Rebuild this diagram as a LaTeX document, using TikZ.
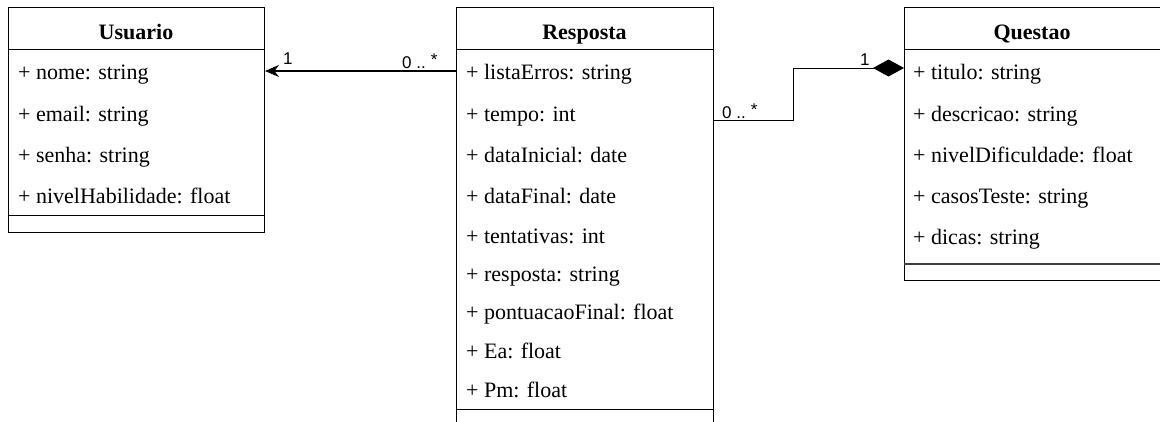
\documentclass[tikz,border=0pt]{standalone}
\usepackage{fontspec}
\setmainfont{Liberation Serif}
\newfontfamily\labelfont{Liberation Sans}
\usetikzlibrary{arrows.meta}
\begin{document}
\begin{tikzpicture}[x=1pt, y=-1pt, classbox/.style={draw, line width=1pt, anchor=north west, inner sep=0pt, minimum width=256pt}, title/.style={anchor=base, inner sep=0pt, font=\fontsize{22}{26}\selectfont\bfseries}, attr/.style={anchor=base west, inner sep=0pt, font=\fontsize{22}{26}\selectfont}, l/.style={anchor=base west, inner sep=0pt, font=\labelfont\fontsize{17}{20}\selectfont}]
	\useasboundingbox (0,0) rectangle (1160,421);

	% class boxes
	\node[classbox, minimum height=225pt] (usuario) at (8,7) {};
	\node[classbox, minimum height=420pt, minimum width=257pt] (resposta) at (456,7) {};
	\node[classbox, minimum height=273pt] (questao) at (904,7) {};

	\draw[line width=1pt] (8,49) -- ++(256,0);
	\draw[line width=1pt] (8,215) -- ++(256,0);
	\draw[line width=1pt] (456,49) -- ++(257,0);
	\draw[line width=1pt] (456,409) -- ++(257,0);
	\draw[line width=1pt] (904,49) -- ++(256,0);
	\draw[line width=1.6pt, black!75] (904,264) -- ++(256,0);

	\node[title] (usuarioT) at (136,39) {Usuario};
	\node[title] (respostaT) at (584.5,39) {Resposta};
	\node[title] (questaoT) at (1032,39) {Questao};

	\node[attr] (u1) at (18,79) {+ nome: string};
	\node[attr] (u2) at (18,121) {+ email: string};
	\node[attr] (u3) at (18,162) {+ senha: string};
	\node[attr] (u4) at (18,203) {+ nivelHabilidade: float};

	\node[attr] (r1) at (466,79) {+ listaErros: string};
	\node[attr] (r2) at (466,121) {+ tempo: int};
	\node[attr] (r3) at (466,162) {+ dataInicial: date};
	\node[attr] (r4) at (466,203) {+ dataFinal: date};
	\node[attr] (r5) at (466,243) {+ tentativas: int};
	\node[attr] (r6) at (466,281) {+ resposta: string};
	\node[attr] (r7) at (466,319) {+ pontuacaoFinal: float};
	\node[attr] (r8) at (466,358) {+ Ea: float};
	\node[attr] (r9) at (466,397) {+ Pm: float};

	\node[attr] (q1) at (913,79) {+ titulo: string};
	\node[attr] (q2) at (913,121) {+ descricao: string};
	\node[attr] (q3) at (913,162) {+ nivelDificuldade: float};
	\node[attr] (q4) at (913,203) {+ casosTeste: string};
	\node[attr] (q5) at (913,244) {+ dicas: string};

	% associations
	\coordinate (bend1) at (793,120);
	\coordinate (bend2) at (793,68);
	\draw[line width=1.2pt, -{Stealth[length=14pt, width=12pt]}] (resposta.west |- 0,71) -- (usuario.east |- 0,71);
	\draw[line width=1pt, -{Diamond[length=31pt, width=17pt]}] (resposta.east |- bend1) -- (bend1) -- (bend2) -- (questao.west |- bend2);

	\node[l] (m1) at (283,64) {1};
	\node[l] (m2) at (402,68) {0 ..\hspace{5pt}\raisebox{3pt}{*}};
	\node[l] (m3) at (722,118) {0 ..\hspace{5pt}\raisebox{3pt}{*}};
	\node[l] (m4) at (860,65) {1};
\end{tikzpicture}
\end{document}
